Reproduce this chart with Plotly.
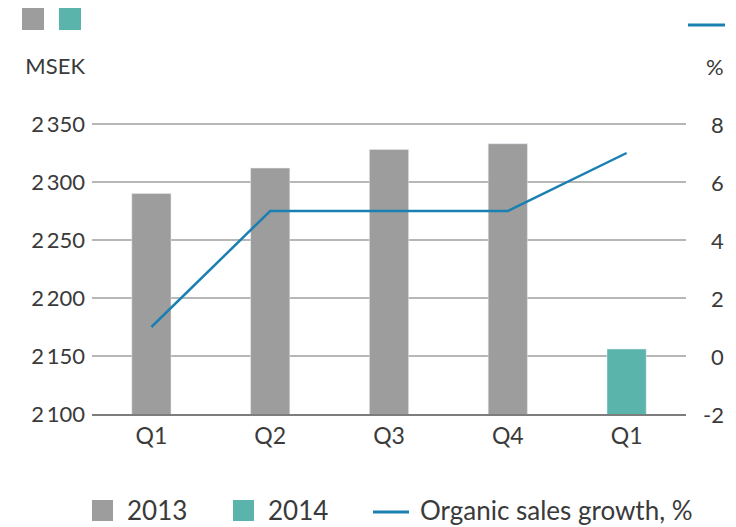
import plotly.graph_objects as go

quarters = ["Q1", "Q2", "Q3", "Q4", "Q1"]
sales_2013 = [2290, 2312, 2328, 2333]
sales_2014 = [2156]
organic_growth = [1, 5, 5, 5, 7]

left_ticks = [2100, 2150, 2200, 2250, 2300, 2350, 2400]
left_labels = ["2\u2009100", "2\u2009150", "2\u2009200", "2\u2009250", "2\u2009300", "2\u2009350", "MSEK"]
right_ticks = [-2, 0, 2, 4, 6, 8, 10]
right_labels = ["-2", "0", "2", "4", "6", "8", "%"]

GRAY = "#9d9d9d"
TEAL = "#5ab4ac"
BLUE = "#1a80b2"
TXT = "#3a3a3a"
FONT = "Lato"

xpos = list(range(len(quarters)))

fig = go.Figure()
fig.add_trace(go.Bar(x=xpos[:4], y=sales_2013, marker_color=GRAY, width=0.33,
                     name="2013", showlegend=False))
fig.add_trace(go.Bar(x=xpos[4:], y=sales_2014, marker_color=TEAL, width=0.33,
                     name="2014", showlegend=False))
fig.add_trace(go.Scatter(x=xpos, y=organic_growth, yaxis="y2", mode="lines",
                         line=dict(color=BLUE, width=2.5),
                         name="Organic sales growth, %", showlegend=False))

fig.update_layout(
    width=736, height=527,
    margin=dict(l=92, r=50, t=66, b=113),
    paper_bgcolor="white", plot_bgcolor="white",
    barmode="overlay",
    font=dict(family=FONT, size=22, color=TXT),
    xaxis=dict(tickvals=xpos, ticktext=quarters, range=[-0.5, 4.5],
               showgrid=False, zeroline=False, showline=True,
               linecolor="#7d7d7d", linewidth=2, ticks="",
               tickfont=dict(size=23, color=TXT)),
    yaxis=dict(range=[2100, 2400], tickvals=left_ticks, ticktext=left_labels,
               showgrid=True, gridcolor="#b7b7b7", gridwidth=1.5,
               zeroline=False, showline=False, ticks="",
               ticklabelstandoff=6,
               tickfont=dict(size=22, color=TXT)),
    yaxis2=dict(range=[-2, 10], overlaying="y", side="right",
                showgrid=False, zeroline=False, showline=False,
                showticklabels=False, ticks=""),
)

# right axis labels, right-aligned
for v, lab in zip(right_ticks, right_labels):
    fig.add_annotation(x=1.0673, xref="paper", y=v, yref="y2", text=lab,
                       showarrow=False, xanchor="right", yanchor="middle",
                       font=dict(size=22, color=TXT, family=FONT))

# top key icons
def px2x(px):
    return (px - 92) / 594.0

def py2y(py):
    return (527 - 113 - py) / 348.0

fig.add_shape(type="rect", xref="paper", yref="paper",
              x0=px2x(22), x1=px2x(44), y0=py2y(30), y1=py2y(8),
              fillcolor=GRAY, line_width=0)
fig.add_shape(type="rect", xref="paper", yref="paper",
              x0=px2x(59), x1=px2x(81), y0=py2y(30), y1=py2y(8),
              fillcolor=TEAL, line_width=0)
fig.add_shape(type="line", xref="paper", yref="paper",
              x0=px2x(688), x1=px2x(725), y0=py2y(25), y1=py2y(25),
              line=dict(color=BLUE, width=3))

# bottom legend
fig.add_shape(type="rect", xref="paper", yref="paper",
              x0=px2x(92), x1=px2x(113), y0=py2y(521), y1=py2y(500),
              fillcolor=GRAY, line_width=0)
fig.add_shape(type="rect", xref="paper", yref="paper",
              x0=px2x(233), x1=px2x(254), y0=py2y(521), y1=py2y(500),
              fillcolor=TEAL, line_width=0)
fig.add_shape(type="line", xref="paper", yref="paper",
              x0=px2x(373), x1=px2x(409), y0=py2y(512), y1=py2y(512),
              line=dict(color=BLUE, width=3))
for px, lab in [(125, "2013"), (266, "2014"), (418, "Organic sales growth, %")]:
    fig.add_annotation(x=px2x(px), xref="paper", y=py2y(510), yref="paper",
                       text=lab, showarrow=False, xanchor="left", yanchor="middle",
                       font=dict(size=26, color=TXT, family=FONT))

fig.write_html("out.html")
